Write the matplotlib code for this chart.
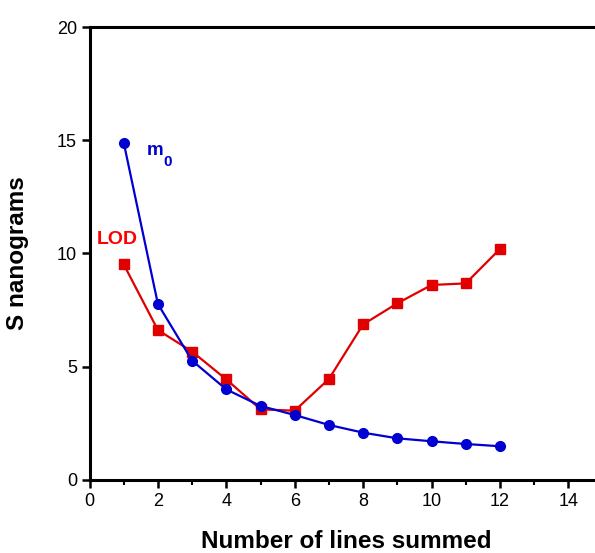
import numpy as np
import matplotlib.pyplot as plt
from matplotlib.ticker import MultipleLocator

plt.rcParams['font.family'] = ['Liberation Sans', 'DejaVu Sans']

# lines summed
n_lines = [1, 2, 3, 4, 5, 6, 7, 8, 9, 10, 11, 12]
# m0 (ng S)
m0 = [14.9, 7.77, 5.27, 4.0, 3.27, 2.87, 2.43, 2.09, 1.84, 1.71, 1.59, 1.49]
# limit of detection (ng S)
lod = [9.52, 6.62, 5.67, 4.44, 3.12, 3.06, 4.46, 6.87, 7.80, 8.61, 8.68, 10.2]

blue = '#0000d0'
red = '#e00000'

fig = plt.figure(figsize=(5.95, 5.53), dpi=100)
ax = fig.add_axes([89.5 / 595, 73 / 553, 1 - 89.5 / 595, 453 / 553])

ax.plot(n_lines, lod, color=red, lw=1.6, marker='s', ms=7, zorder=3)
ax.plot(n_lines, m0, color=blue, lw=1.6, marker='o', ms=7, zorder=4)

# series labels, m with a subscript 0
ax.text(1.68, 14.35, 'm', color=blue, fontsize=13.5,
        fontweight='bold', ha='left', va='baseline')
ax.text(2.17, 13.86, '0', color=blue, fontsize=11,
        fontweight='bold', ha='left', va='baseline')
ax.text(0.22, 10.42, 'LOD', color='#ff0000', fontsize=14,
        fontweight='bold', ha='left', va='baseline')

ax.set_xlim(0, 14.78)
ax.set_ylim(0, 20)
ax.xaxis.set_major_locator(MultipleLocator(2))
ax.xaxis.set_minor_locator(MultipleLocator(1))
ax.yaxis.set_major_locator(MultipleLocator(5))

ax.spines['right'].set_visible(False)
for s in ['left', 'bottom', 'top']:
    ax.spines[s].set_linewidth(2.2)

ax.tick_params(axis='both', which='major', direction='out', length=6,
               width=1.8, labelsize=13, pad=3)
ax.tick_params(axis='x', which='minor', direction='out', length=3.5, width=1.5)

ax.set_xlabel('Number of lines summed', fontsize=17.5, fontweight='bold')
ax.set_ylabel('S nanograms', fontsize=17.5, fontweight='bold')
ax.xaxis.set_label_coords((346 - 89.5) / (595 - 89.5), -0.11)
ax.yaxis.set_label_coords((29 - 89.5) / (595 - 89.5), 0.5)

fig.savefig('out.png', dpi=100)
